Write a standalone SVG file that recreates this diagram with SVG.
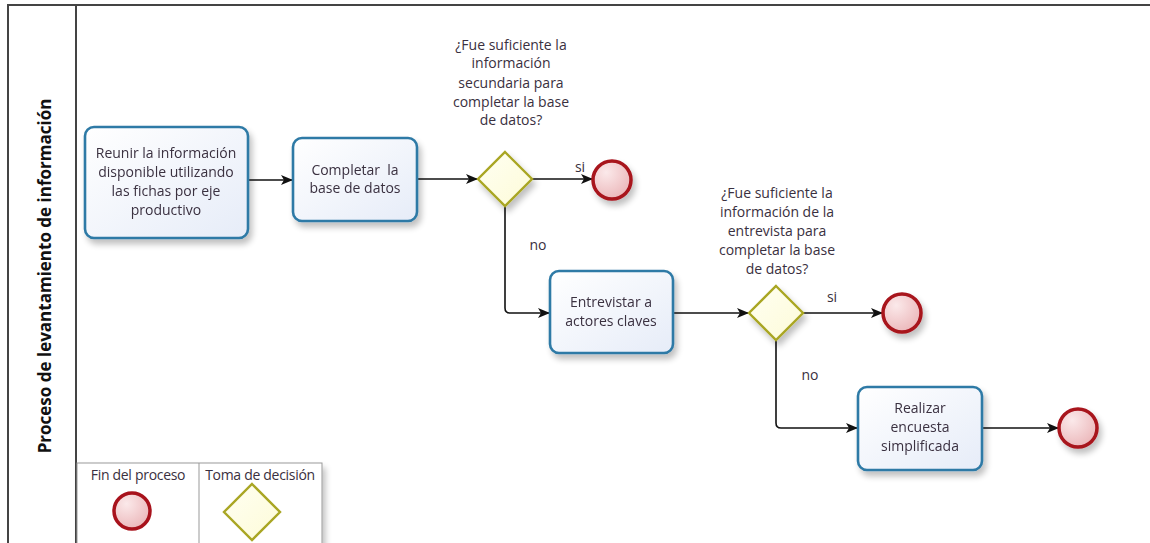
<svg xmlns="http://www.w3.org/2000/svg" width="1150" height="543" viewBox="0 0 1150 543">
<defs>
<linearGradient id="gTask" x1="0" y1="0" x2="1" y2="1">
<stop offset="0" stop-color="#ffffff"/>
<stop offset="1" stop-color="#e6ecf8"/>
</linearGradient>
<radialGradient id="gEnd" cx="0.35" cy="0.3" r="0.8">
<stop offset="0" stop-color="#fbe9ea"/>
<stop offset="1" stop-color="#eab3b6"/>
</radialGradient>
<linearGradient id="gDec" x1="0" y1="0" x2="1" y2="1">
<stop offset="0" stop-color="#fffff2"/>
<stop offset="1" stop-color="#fdfbd8"/>
</linearGradient>
<filter id="sh" x="-30%" y="-30%" width="160%" height="170%">
<feGaussianBlur in="SourceAlpha" stdDeviation="3"/>
<feOffset dx="3" dy="5" result="b"/>
<feComponentTransfer><feFuncA type="linear" slope="0.25"/></feComponentTransfer>
<feMerge><feMergeNode/><feMergeNode in="SourceGraphic"/></feMerge>
</filter>
<marker id="arr" viewBox="0 0 12 10" refX="11" refY="5" markerWidth="12" markerHeight="10" markerUnits="userSpaceOnUse" orient="auto">
<path d="M0,0 L12,5 L0,10 L3,5 Z" fill="#111"/>
</marker>
</defs>
<style>
.lane{fill:none;stroke:#444;stroke-width:2}
.task{fill:url(#gTask);stroke:#2e7aa6;stroke-width:2.6}
.end{fill:url(#gEnd);stroke:#a8121c;stroke-width:3.5}
.dec{fill:url(#gDec);stroke:#a9a624;stroke-width:2.4}
.conn{fill:none;stroke:#111;stroke-width:1.6}
.t{font-family:"Open Sans","Noto Sans",sans-serif;font-size:14px;fill:#3a3040;text-anchor:middle}
.lt{font-family:"Open Sans","Noto Sans",sans-serif;font-size:14px;fill:#3a3040;text-anchor:middle;letter-spacing:-0.3px}
.title{font-family:"Open Sans","Noto Sans",sans-serif;font-size:17px;font-weight:bold;fill:#111;text-anchor:middle}
.leg{fill:#fff;stroke:#999;stroke-width:1}
</style>
<rect x="0" y="0" width="1150" height="543" fill="#fff"/>
<g id="lane">
<path class="lane" d="M8,543 L8,5 L1150,5"/>
<path class="lane" d="M76,5 L76,543"/>
<text class="title" transform="translate(51,276) rotate(-90)">Proceso de levantamiento de información</text>
</g>
<g id="connectors">
<path class="conn" d="M248,180 L292,180" marker-end="url(#arr)"/>
<path class="conn" d="M417,179 L477,179" marker-end="url(#arr)"/>
<path class="conn" d="M532,179 L592,179" marker-end="url(#arr)"/>
<path class="conn" d="M505,206 L505,308 Q505,313 510,313 L549,313" marker-end="url(#arr)"/>
<path class="conn" d="M673,313 L748,313" marker-end="url(#arr)"/>
<path class="conn" d="M803,313 L882,313" marker-end="url(#arr)"/>
<path class="conn" d="M776,340 L776,423 Q776,428 781,428 L857,428" marker-end="url(#arr)"/>
<path class="conn" d="M982,428 L1058,428" marker-end="url(#arr)"/>
<text class="t" x="580" y="172">si</text>
<text class="t" x="538" y="250">no</text>
<text class="t" x="832" y="302">si</text>
<text class="t" x="810" y="380">no</text>
</g>
<g id="task1" filter="url(#sh)">
<rect class="task" x="85" y="127" width="163" height="111" rx="9"/>
<text class="t" x="166" y="158">Reunir la información</text>
<text class="t" x="166" y="177">disponible utilizando</text>
<text class="t" x="166" y="196">las fichas por eje</text>
<text class="t" x="166" y="215">productivo</text>
</g>
<g id="task2" filter="url(#sh)">
<rect class="task" x="293" y="138" width="124" height="83" rx="9"/>
<text class="t" x="355" y="175" xml:space="preserve">Completar  la</text>
<text class="t" x="355" y="193">base de datos</text>
</g>
<g id="gateway1" filter="url(#sh)">
<polygon class="dec" points="505,152 532,179 505,206 478,179"/>
</g>
<g id="q1">
<text class="t" x="511" y="50">¿Fue suficiente la</text>
<text class="t" x="511" y="68">información</text>
<text class="t" x="511" y="88">secundaria para</text>
<text class="t" x="511" y="107">completar la base</text>
<text class="t" x="511" y="125">de datos?</text>
</g>
<g id="end1" filter="url(#sh)">
<circle class="end" cx="612" cy="180" r="19"/>
</g>
<g id="task3" filter="url(#sh)">
<rect class="task" x="550" y="271" width="123" height="82" rx="9"/>
<text class="t" x="611" y="307">Entrevistar a</text>
<text class="t" x="611" y="326">actores claves</text>
</g>
<g id="gateway2" filter="url(#sh)">
<polygon class="dec" points="776,286 803,313 776,340 749,313"/>
</g>
<g id="q2">
<text class="t" x="777" y="198">¿Fue suficiente la</text>
<text class="t" x="777" y="217">información de la</text>
<text class="t" x="777" y="236">entrevista para</text>
<text class="t" x="777" y="255">completar la base</text>
<text class="t" x="777" y="274">de datos?</text>
</g>
<g id="end2" filter="url(#sh)">
<circle class="end" cx="902" cy="313" r="19"/>
</g>
<g id="task4" filter="url(#sh)">
<rect class="task" x="858" y="387" width="124" height="83" rx="9"/>
<text class="t" x="920" y="413">Realizar</text>
<text class="t" x="920" y="432">encuesta</text>
<text class="t" x="920" y="451">simplificada</text>
</g>
<g id="end3" filter="url(#sh)">
<circle class="end" cx="1078" cy="428" r="19"/>
</g>
<g id="legend">
<rect class="leg" x="77" y="463" width="245" height="90" filter="url(#sh)"/>
<line x1="199" y1="463" x2="199" y2="543" stroke="#999" stroke-width="1"/>
<text class="lt" x="138" y="480">Fin del proceso</text>
<text class="lt" x="260" y="480">Toma de decisión</text>
<circle class="end" cx="132" cy="511" r="18"/>
<polygon class="dec" points="252,484 280,512 252,540 224,512"/>
</g>
</svg>
